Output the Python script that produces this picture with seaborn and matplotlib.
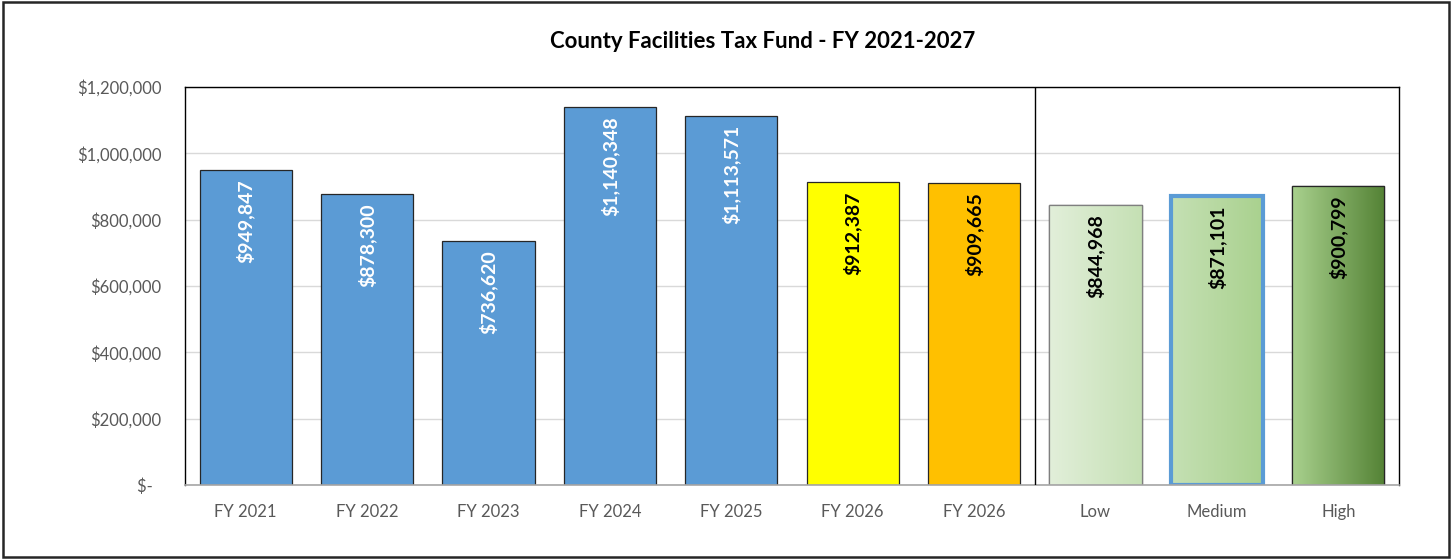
import matplotlib
matplotlib.use("Agg")
import matplotlib.pyplot as plt
import matplotlib.patches as mpatches
import numpy as np
import pandas as pd
import seaborn as sns
from matplotlib.colors import LinearSegmentedColormap
from matplotlib.ticker import FuncFormatter

categories = ["FY 2021", "FY 2022", "FY 2023", "FY 2024", "FY 2025",
              "FY 2026", "FY 2026 ", "Low", "Medium", "High"]
tick_labels = ["FY 2021", "FY 2022", "FY 2023", "FY 2024", "FY 2025",
               "FY 2026", "FY 2026", "Low", "Medium", "High"]
values = [949847, 878300, 736620, 1140348, 1113571,
          912387, 909665, 844968, 871101, 900799]

bar_colors = ["#5B9BD5"] * 5 + ["#FFFF00", "#FFC000", "#E2EFDA", "#C5E0B4", "#A9D18E"]
label_colors = ["white"] * 5 + ["black"] * 5
gradients = {7: ("#E2EFDA", "#C5E0B4"), 8: ("#C5E0B4", "#A9D18E"), 9: ("#A9D18E", "#548235")}

sns.set_style("white")
plt.rcParams["font.family"] = ["Lato", "DejaVu Sans"]

df = pd.DataFrame({"category": categories, "value": values})

fig = plt.figure(figsize=(14.52, 5.59), dpi=100)
ax = fig.add_axes([0.1274, 0.1324, 0.9635 - 0.1274, 0.8444 - 0.1324])

sns.barplot(data=df, x="category", y="value", hue="category", palette=bar_colors,
            legend=False, width=0.76, saturation=1, ax=ax, zorder=2)

for i, p in enumerate(ax.patches):
    p.set_edgecolor("#262626")
    p.set_linewidth(0.9)
    if i in gradients:
        c0, c1 = gradients[i]
        cmap = LinearSegmentedColormap.from_list(f"g{i}", [c0, c1])
        x0, w, h = p.get_x(), p.get_width(), p.get_height()
        grad = np.linspace(0, 1, 256).reshape(1, -1)
        im = ax.imshow(grad, cmap=cmap, aspect="auto", extent=[x0, x0 + w, 0, h],
                       zorder=2.1, interpolation="bilinear")
        im.set_clip_path(p)
        ax.add_patch(mpatches.Rectangle((x0, 0), w, h, fill=False, zorder=2.2,
                                        edgecolor="#7F7F7F" if i == 7 else "#262626",
                                        linewidth=0.9))
    if i == 8:
        ax.add_patch(mpatches.Rectangle((p.get_x(), 0), p.get_width(), p.get_height(),
                                        fill=False, edgecolor="#5B9BD5", linewidth=3,
                                        zorder=2.3))
    ax.text(p.get_x() + p.get_width() / 2, p.get_height() - 28000,
            f"${values[i]:,}", rotation=90, ha="center", va="top",
            fontsize=14, fontweight="bold", color=label_colors[i], zorder=3)

ax.axvline(6.5, color="black", linewidth=1, zorder=3)

ax.set_xlim(-0.5, 9.5)
ax.set_ylim(0, 1200000)
ax.set_yticks(np.arange(0, 1200001, 200000))
ax.yaxis.set_major_formatter(FuncFormatter(lambda v, _: "$-  " if v == 0 else f"${v:,.0f}"))
ax.set_xticks(range(len(tick_labels)))
ax.set_xticklabels(tick_labels)
ax.tick_params(axis="both", labelsize=12, colors="#595959", length=0)
ax.tick_params(axis="x", pad=14)
ax.tick_params(axis="y", pad=17)
ax.grid(axis="y", color="#D9D9D9", linewidth=1, zorder=0)
ax.set_axisbelow(True)
ax.set_xlabel("")
ax.set_ylabel("")

for side in ["top", "left", "right"]:
    ax.spines[side].set_color("black")
    ax.spines[side].set_linewidth(1)
ax.spines["bottom"].set_color("#A6A6A6")
ax.spines["bottom"].set_linewidth(1.2)

fig.text(0.5255, 0.925, "County Facilities Tax Fund - FY 2021-2027", ha="center", va="center",
         fontsize=16, fontweight="bold", color="black")

fig.patches.append(mpatches.Rectangle((0.002, 0.004), 0.996, 0.992, transform=fig.transFigure,
                                      fill=False, edgecolor="#262626", linewidth=1.8))

fig.savefig("out.png", dpi=100)
